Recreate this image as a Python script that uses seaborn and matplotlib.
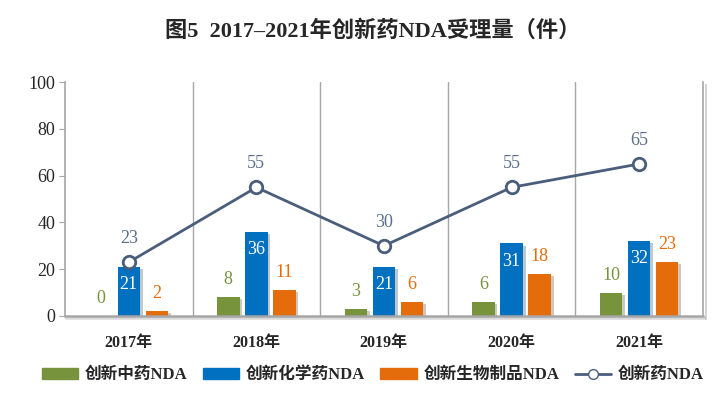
import pandas as pd
import numpy as np
import matplotlib
matplotlib.use("Agg")
import matplotlib.pyplot as plt
import matplotlib.patheffects as pe
from matplotlib.lines import Line2D
from matplotlib.patches import Patch
import seaborn as sns

# chart data
years = ["2017年", "2018年", "2019年", "2020年", "2021年"]
series_names = ["创新中药NDA", "创新化学药NDA", "创新生物制品NDA"]
tcm = [0, 8, 3, 6, 10]
chem = [21, 36, 21, 31, 32]
bio = [2, 11, 6, 18, 23]
total_name = "创新药NDA"
total = [23, 55, 30, 55, 65]

colors = ["#77933C", "#0070C0", "#E46C0A"]
line_color = "#4A5E7C"
label_line_color = "#5A6D8C"

sns.set_style("white")
plt.rcParams["font.family"] = ["Liberation Serif", "Noto Sans CJK SC"]

df = pd.DataFrame({
    "year": years * 3,
    "kind": [series_names[0]] * 5 + [series_names[1]] * 5 + [series_names[2]] * 5,
    "value": tcm + chem + bio,
})

fig = plt.figure(figsize=(7.24, 3.93), dpi=100)
ax = fig.add_axes([0.0898, 0.196, 0.881, 0.595])

sns.barplot(data=df, x="year", y="value", hue="kind", order=years,
            hue_order=series_names, palette=colors, width=0.66, gap=0.2,
            saturation=1, legend=False, linewidth=0, ax=ax)

shadow = [pe.SimplePatchShadow(offset=(2, -1.5), alpha=0.25), pe.Normal()]
for p in ax.patches:
    p.set_linewidth(0)
    p.set_path_effects(shadow)

sns.pointplot(x=years, y=total, color=line_color, markers="o",
              linestyles="-", markersize=9, markerfacecolor="white",
              markeredgecolor=line_color, markeredgewidth=2, linewidth=2,
              ax=ax, zorder=5)

# data labels
for c, cont in enumerate(ax.containers[:3]):
    for bar, v in zip(cont, [tcm, chem, bio][c]):
        xc = bar.get_x() + bar.get_width() / 2
        h = bar.get_height()
        if c == 1:
            ax.text(xc, h - 7.5, str(v), ha="center", va="center",
                    color="white", fontsize=13)
        else:
            ax.text(xc, h + 7.5, str(v), ha="center", va="center",
                    color=colors[c], fontsize=13)
for i, v in enumerate(total):
    ax.text(i, v + 10, str(v), ha="center", va="center",
            color=label_line_color, fontsize=13)

ax.set_xlim(-0.5, 4.5)
ax.set_ylim(0, 100)
ax.set_yticks(range(0, 101, 20))
ax.set_xlabel("")
ax.set_ylabel("")
for b in [0.5, 1.5, 2.5, 3.5]:
    ax.axvline(b, color="#A6A6A6", lw=1, zorder=0)

ax.tick_params(axis="y", labelsize=13, length=4, color="#A6A6A6",
               direction="out", left=True, pad=3)
ax.tick_params(axis="x", length=0, pad=14)
for lab in ax.get_xticklabels():
    lab.set_fontweight("bold")
    lab.set_fontsize(11.5)

for s in ["left", "bottom", "right"]:
    ax.spines[s].set_color("#A6A6A6")
    ax.spines[s].set_linewidth(1.2)
ax.spines["top"].set_visible(False)
ax.spines["bottom"].set_linewidth(1.8)
ax.spines["right"].set_path_effects(
    [pe.SimpleLineShadow(offset=(2, -2), alpha=0.2), pe.Normal()])
ax.spines["bottom"].set_path_effects(
    [pe.SimpleLineShadow(offset=(1, -1.5), alpha=0.15), pe.Normal()])

fig.text(0.515, 0.92, "图5  2017–2021年创新药NDA受理量（件）", ha="center",
         va="center", fontsize=16, fontweight="bold")

handles = [Patch(color=colors[0]), Patch(color=colors[1]), Patch(color=colors[2]),
           Line2D([], [], color=line_color, marker="o", markerfacecolor="white",
                  markeredgecolor=line_color, markersize=7, lw=2)]
fig.legend(handles, series_names + [total_name], loc="center",
           bbox_to_anchor=(0.515, 0.045), ncol=4, frameon=False,
           prop={"size": 12, "weight": "bold"}, handlelength=2.2,
           handleheight=0.6, columnspacing=0.9, handletextpad=0.4)

fig.savefig("out.png", dpi=100)
